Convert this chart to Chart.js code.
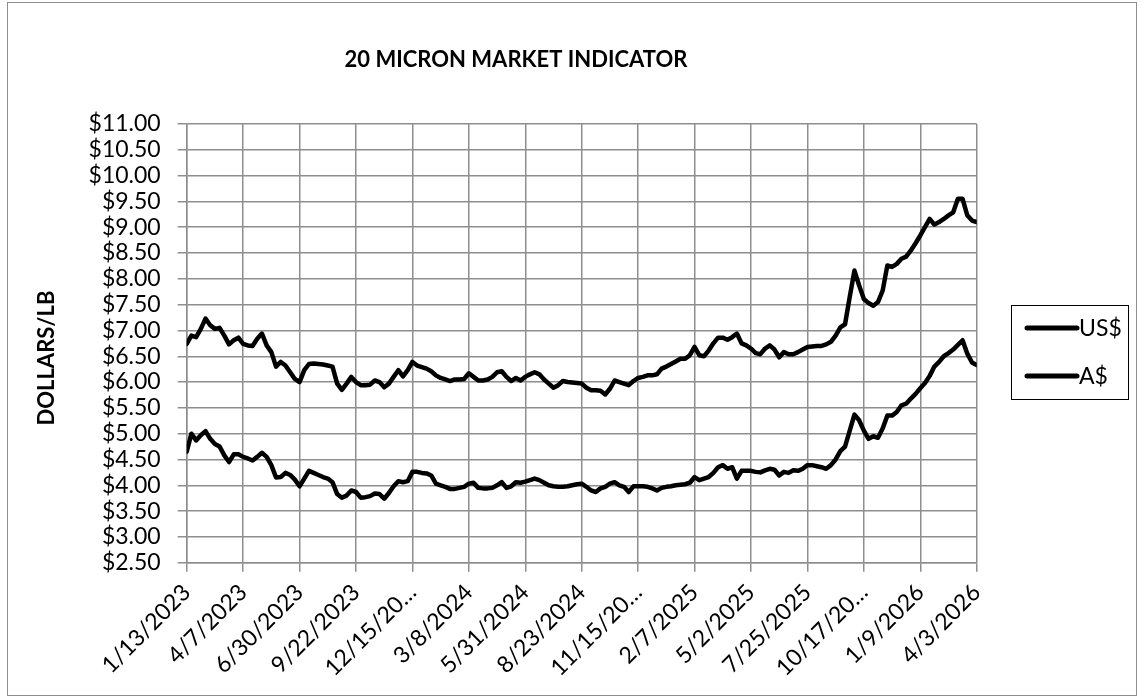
<!DOCTYPE html>
<html>
<head>
<meta charset="utf-8">
<script src="https://cdn.jsdelivr.net/npm/chart.js@4.4.1/dist/chart.umd.min.js"></script>
<style>
  html, body { margin: 0; padding: 0; background: #fff; }
  #wrap { width: 1144px; height: 699px; }
</style>
</head>
<body>
<div id="wrap"><canvas id="chart" width="1144" height="699"></canvas></div>
<script>
const chartTitle = '20 MICRON MARKET INDICATOR';
const yTitle = 'DOLLARS/LB';
const seriesNames = ['US$', 'A$'];

// one label every 12 weeks
const tickLabels = ['1/13/2023', '4/7/2023', '6/30/2023', '9/22/2023', '12/15/20…', '3/8/2024',
  '5/31/2024', '8/23/2024', '11/15/20…', '2/7/2025', '5/2/2025', '7/25/2025', '10/17/20…',
  '1/9/2026', '4/3/2026'];

// weekly values, 1/13/2023 .. 4/3/2026
const usdValues = [
  6.74, 6.90, 6.87, 7.03, 7.23, 7.10, 7.03, 7.05, 6.90, 6.73, 6.81, 6.86,
  6.74, 6.71, 6.70, 6.84, 6.94, 6.71, 6.58, 6.30, 6.39, 6.32, 6.19, 6.06,
  6.00, 6.23, 6.35, 6.36, 6.35, 6.34, 6.32, 6.30, 5.97, 5.85, 5.97, 6.10,
  6.00, 5.94, 5.94, 5.95, 6.03, 6.00, 5.90, 5.97, 6.10, 6.23, 6.11, 6.23,
  6.39, 6.32, 6.29, 6.26, 6.21, 6.13, 6.08, 6.05, 6.02, 6.05, 6.05, 6.06,
  6.17, 6.10, 6.03, 6.03, 6.05, 6.10, 6.19, 6.21, 6.10, 6.02, 6.08, 6.03,
  6.10, 6.15, 6.19, 6.15, 6.05, 5.97, 5.89, 5.94, 6.02, 6.00, 5.99, 5.98,
  5.97, 5.89, 5.84, 5.84, 5.83, 5.76, 5.87, 6.03, 6.00, 5.97, 5.94, 6.02,
  6.08, 6.10, 6.13, 6.13, 6.15, 6.26, 6.30, 6.35, 6.40, 6.45, 6.45, 6.52,
  6.68, 6.52, 6.50, 6.61, 6.75, 6.86, 6.86, 6.82, 6.87, 6.94, 6.75, 6.71,
  6.65, 6.56, 6.54, 6.65, 6.71, 6.63, 6.48, 6.58, 6.54, 6.54, 6.58, 6.63,
  6.68, 6.69, 6.70, 6.70, 6.73, 6.78, 6.90, 7.06, 7.12, 7.65, 8.16, 7.87,
  7.61, 7.53, 7.48, 7.55, 7.77, 8.26, 8.23, 8.29, 8.39, 8.43, 8.55, 8.69,
  8.84, 9.00, 9.16, 9.05, 9.10, 9.16, 9.23, 9.29, 9.55, 9.55, 9.23, 9.13,
  9.10
];

const audValues = [
  4.65, 5.00, 4.87, 4.97, 5.05, 4.90, 4.80, 4.75, 4.58, 4.45, 4.60, 4.60,
  4.55, 4.52, 4.48, 4.55, 4.63, 4.55, 4.39, 4.15, 4.16, 4.24, 4.20, 4.11,
  3.98, 4.13, 4.28, 4.24, 4.20, 4.16, 4.13, 4.06, 3.83, 3.76, 3.80, 3.90,
  3.87, 3.76, 3.77, 3.79, 3.84, 3.83, 3.74, 3.85, 3.98, 4.08, 4.06, 4.08,
  4.26, 4.26, 4.24, 4.23, 4.19, 4.03, 4.00, 3.97, 3.93, 3.93, 3.95, 3.97,
  4.03, 4.05, 3.95, 3.94, 3.94, 3.95, 4.00, 4.06, 3.95, 3.98, 4.06, 4.05,
  4.07, 4.10, 4.13, 4.10, 4.05, 4.00, 3.98, 3.97, 3.97, 3.98, 4.00, 4.02,
  4.03, 3.97, 3.90, 3.87, 3.94, 3.97, 4.03, 4.06, 4.00, 3.97, 3.87, 3.98,
  3.98, 3.98, 3.97, 3.94, 3.90, 3.95, 3.97, 3.98, 4.00, 4.01, 4.02, 4.05,
  4.16, 4.10, 4.13, 4.16, 4.24, 4.35, 4.39, 4.32, 4.35, 4.13, 4.28, 4.28,
  4.28, 4.26, 4.25, 4.29, 4.32, 4.30, 4.19, 4.26, 4.24, 4.29, 4.28, 4.32,
  4.39, 4.39, 4.37, 4.35, 4.32, 4.39, 4.50, 4.66, 4.75, 5.06, 5.37, 5.26,
  5.06, 4.90, 4.95, 4.92, 5.10, 5.35, 5.35, 5.42, 5.55, 5.58, 5.68, 5.77,
  5.88, 5.98, 6.12, 6.30, 6.39, 6.50, 6.56, 6.63, 6.72, 6.81, 6.55, 6.38,
  6.33
];

const gridGray = '#8e8e8e';
const labelFont = { family: 'Lato', size: 23 };

const extras = {
  id: 'extras',
  beforeDraw(chart) {
    const ctx = chart.ctx;
    ctx.save();
    ctx.fillStyle = '#fff';
    ctx.fillRect(0, 0, chart.width, chart.height);
    ctx.restore();
  },
  afterDraw(chart) {
    const ctx = chart.ctx;
    ctx.save();
    // outer frame
    ctx.strokeStyle = gridGray;
    ctx.lineWidth = 1;
    ctx.strokeRect(7.5, 2.5, 1129, 693);

    ctx.fillStyle = '#000';
    ctx.font = 'bold 22px Lato';
    ctx.textAlign = 'center';
    ctx.textBaseline = 'middle';
    ctx.fillText(chartTitle, 516, 60);

    ctx.save();
    ctx.translate(47, 358);
    ctx.rotate(-Math.PI / 2);
    ctx.fillText(yTitle, 0, 0);
    ctx.restore();

    // legend
    ctx.strokeStyle = '#000';
    ctx.lineWidth = 1;
    ctx.strokeRect(1011.5, 305.5, 117, 94);
    ctx.lineWidth = 5;
    ctx.lineCap = 'round';
    ctx.font = '23px Lato';
    ctx.textAlign = 'left';
    [328, 376].forEach((y, i) => {
      ctx.beginPath();
      ctx.moveTo(1027, y);
      ctx.lineTo(1077, y);
      ctx.stroke();
      ctx.fillText(seriesNames[i], 1079, y + 1);
    });
    ctx.restore();
  }
};

new Chart(document.getElementById('chart'), {
  type: 'line',
  data: {
    datasets: [usdValues, audValues].map((vals, i) => ({
      label: seriesNames[i],
      data: vals.map((v, k) => ({ x: k, y: v })),
      borderColor: '#000',
      borderWidth: 4.5,
      pointRadius: 0,
      tension: 0,
      fill: false,
      borderJoinStyle: 'round',
      borderCapStyle: 'round'
    }))
  },
  options: {
    responsive: false,
    devicePixelRatio: 1,
    animation: false,
    layout: { padding: { top: 124, right: 167.3, bottom: 0, left: 0 } },
    plugins: { legend: { display: false }, title: { display: false }, tooltip: { enabled: false } },
    scales: {
      x: {
        type: 'linear',
        min: 0,
        max: 168,
        afterFit: s => { s.height = 699 - 562.7; },
        ticks: {
          stepSize: 12,
          autoSkip: false,
          minRotation: 45,
          maxRotation: 45,
          padding: 7,
          color: '#000',
          font: labelFont,
          callback: v => tickLabels[v / 12]
        },
        grid: { color: gridGray, lineWidth: 1.5, tickLength: 9 },
        border: { color: gridGray, width: 1.5 }
      },
      y: {
        min: 2.5,
        max: 11,
        afterFit: s => { s.width = 186.7; },
        ticks: {
          stepSize: 0.5,
          autoSkip: false,
          padding: 17,
          color: '#000',
          font: labelFont,
          callback: v => '$' + v.toFixed(2)
        },
        grid: { color: gridGray, lineWidth: 1.5, tickLength: 9 },
        border: { color: gridGray, width: 1.5 }
      }
    }
  },
  plugins: [extras]
});
</script>
</body>
</html>
